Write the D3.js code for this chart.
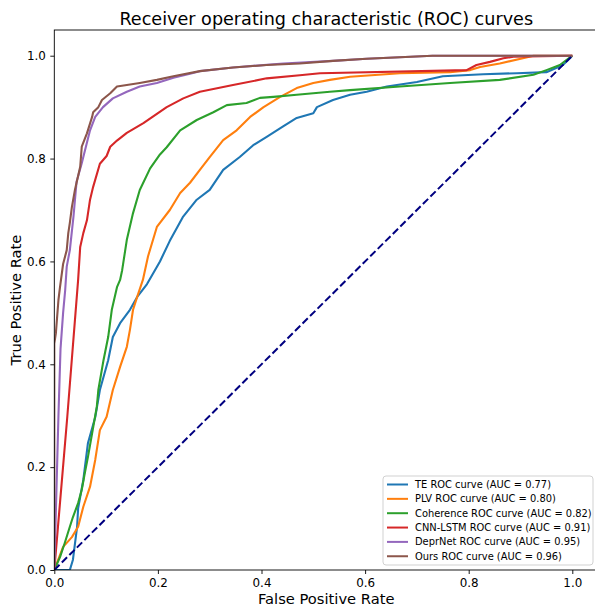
<!DOCTYPE html>
<html>
<head>
<meta charset="utf-8">
<script src="https://cdn.jsdelivr.net/npm/d3@7"></script>
<style>
  body { margin: 0; background: white; }
  svg { display: block; font-family: "DejaVu Sans", sans-serif; }
</style>
</head>
<body>
<svg id="chart"></svg>
<script>
// ROC curve points (false positive rate / true positive rate)
var teFpr  = [0, 0.03, 0.036, 0.044, 0.046, 0.056, 0.065, 0.079, 0.088, 0.104, 0.113, 0.127, 0.146, 0.16, 0.179, 0.204, 0.223, 0.248, 0.275, 0.30, 0.326, 0.358, 0.384, 0.41, 0.441, 0.468, 0.5, 0.507, 0.538, 0.571, 0.603, 0.642, 0.70, 0.75, 0.828, 0.893, 0.95, 0.982, 1];
var teTpr  = [0, 0, 0.02, 0.084, 0.12, 0.175, 0.247, 0.297, 0.35, 0.408, 0.453, 0.48, 0.506, 0.531, 0.556, 0.6, 0.64, 0.686, 0.72, 0.739, 0.778, 0.803, 0.826, 0.842, 0.862, 0.879, 0.888, 0.90, 0.914, 0.924, 0.93, 0.94, 0.949, 0.96, 0.964, 0.966, 0.968, 0.982, 1];

var plvFpr = [0, 0.017, 0.034, 0.046, 0.056, 0.069, 0.079, 0.088, 0.101, 0.113, 0.127, 0.14, 0.146, 0.152, 0.16, 0.171, 0.181, 0.198, 0.223, 0.243, 0.262, 0.281, 0.30, 0.326, 0.352, 0.378, 0.404, 0.436, 0.468, 0.5, 0.532, 0.571, 0.667, 0.764, 0.803, 0.822, 0.86, 0.913, 0.925, 1];
var plvTpr = [0, 0.045, 0.064, 0.084, 0.123, 0.162, 0.214, 0.272, 0.298, 0.35, 0.395, 0.434, 0.467, 0.506, 0.531, 0.564, 0.61, 0.667, 0.70, 0.733, 0.753, 0.778, 0.803, 0.836, 0.855, 0.881, 0.90, 0.92, 0.937, 0.947, 0.953, 0.959, 0.966, 0.968, 0.972, 0.978, 0.985, 0.997, 1, 1];

var cohFpr = [0, 0.011, 0.02, 0.03, 0.036, 0.046, 0.053, 0.059, 0.065, 0.073, 0.082, 0.085, 0.095, 0.104, 0.111, 0.121, 0.127, 0.131, 0.14, 0.152, 0.165, 0.185, 0.204, 0.217, 0.243, 0.275, 0.307, 0.333, 0.371, 0.397, 0.423, 0.468, 0.532, 0.571, 0.667, 0.764, 0.86, 0.925, 0.95, 0.976, 1];
var cohTpr = [0, 0.025, 0.052, 0.084, 0.103, 0.13, 0.156, 0.189, 0.22, 0.266, 0.317, 0.35, 0.408, 0.453, 0.506, 0.55, 0.564, 0.583, 0.642, 0.694, 0.739, 0.781, 0.808, 0.822, 0.855, 0.875, 0.89, 0.904, 0.908, 0.918, 0.92, 0.924, 0.93, 0.933, 0.94, 0.947, 0.953, 0.963, 0.972, 0.982, 1];

var cnnFpr = [0, 0.025, 0.046, 0.05, 0.056, 0.063, 0.069, 0.075, 0.088, 0.101, 0.108, 0.121, 0.14, 0.172, 0.217, 0.249, 0.281, 0.345, 0.41, 0.474, 0.513, 0.796, 0.815, 0.841, 0.867, 0.886, 1];
var cnnTpr = [0, 0.297, 0.564, 0.628, 0.655, 0.68, 0.72, 0.745, 0.79, 0.805, 0.823, 0.835, 0.85, 0.869, 0.90, 0.917, 0.93, 0.943, 0.956, 0.962, 0.966, 0.972, 0.982, 0.988, 0.995, 0.998, 1];

var deprFpr = [0, 0.004, 0.008, 0.012, 0.017, 0.021, 0.024, 0.03, 0.037, 0.043, 0.053, 0.056, 0.069, 0.079, 0.094, 0.113, 0.14, 0.165, 0.198, 0.23, 0.262, 0.281, 0.345, 0.442, 0.538, 0.603, 0.667, 0.73, 1];
var deprTpr = [0, 0.15, 0.3, 0.43, 0.5, 0.544, 0.59, 0.622, 0.687, 0.755, 0.791, 0.803, 0.855, 0.881, 0.90, 0.917, 0.93, 0.94, 0.947, 0.957, 0.965, 0.97, 0.977, 0.985, 0.99, 0.994, 0.997, 1, 1];

var oursFpr = [0, 0, 0.003, 0.008, 0.011, 0.017, 0.024, 0.027, 0.03, 0.034, 0.04, 0.05, 0.053, 0.063, 0.073, 0.075, 0.085, 0.092, 0.108, 0.121, 0.14, 0.165, 0.198, 0.23, 0.281, 0.345, 0.41, 0.474, 0.538, 0.603, 0.667, 0.73, 1];
var oursTpr = [0, 0.44, 0.46, 0.525, 0.55, 0.595, 0.622, 0.655, 0.675, 0.706, 0.74, 0.784, 0.823, 0.849, 0.881, 0.89, 0.90, 0.914, 0.927, 0.94, 0.943, 0.947, 0.953, 0.96, 0.97, 0.977, 0.982, 0.985, 0.99, 0.994, 0.997, 1, 1];

var names  = ["TE", "PLV", "Coherence", "CNN-LSTM", "DeprNet", "Ours"];
var aucs   = [0.77, 0.80, 0.82, 0.91, 0.95, 0.96];
var colors = ["#1f77b4", "#ff7f0e", "#2ca02c", "#d62728", "#9467bd", "#8c564b"];
var tickValues = [0.0, 0.2, 0.4, 0.6, 0.8, 1.0];

var fprs = [teFpr, plvFpr, cohFpr, cnnFpr, deprFpr, oursFpr];
var tprs = [teTpr, plvTpr, cohTpr, cnnTpr, deprTpr, oursTpr];

var series = names.map(function(n, i){
  return {name: n, auc: aucs[i], color: colors[i],
          points: fprs[i].map(function(f, j){ return [f, tprs[i][j]]; })};
});

var W = 595, H = 606;
var margin = {top: 30, left: 54.3},
    width = 543.9,
    height = 540;

var svg = d3.select("#chart").attr("width", W).attr("height", H);
svg.append("rect").attr("width", W).attr("height", H).attr("fill", "white");

var x = d3.scaleLinear().domain([0, 1.05]).range([0, width]),
    y = d3.scaleLinear().domain([0, 1.05]).range([height, 0]);

var g = svg.append("g")
  .attr("transform", "translate(" + margin.left + "," + margin.top + ")");

// clip the curves to the plotting area
svg.append("clipPath").attr("id", "plotclip")
  .append("rect").attr("width", width).attr("height", height);

var line = d3.line().x(d => x(d[0])).y(d => y(d[1]));

var curves = g.append("g").attr("clip-path", "url(#plotclip)");

curves.selectAll("path.roc")
  .data(series)
  .enter().append("path")
    .attr("class", "roc")
    .attr("d", d => line(d.points))
    .attr("fill", "none")
    .attr("stroke", d => d.color)
    .attr("stroke-width", 2.1)
    .attr("stroke-linejoin", "round");

// chance diagonal
curves.append("path")
  .attr("d", line([[0, 0], [1, 1]]))
  .attr("fill", "none")
  .attr("stroke", "navy")
  .attr("stroke-width", 2)
  .attr("stroke-dasharray", "7.4,3.2");

// axes
var xAxis = g.append("g")
  .attr("transform", "translate(0," + height + ")")
  .call(d3.axisBottom(x).tickValues(tickValues).tickFormat(d3.format(".1f"))
        .tickSize(4).tickPadding(4.5).tickSizeOuter(0));
var yAxis = g.append("g")
  .call(d3.axisLeft(y).tickValues(tickValues).tickFormat(d3.format(".1f"))
        .tickSize(4).tickPadding(4.5).tickSizeOuter(0));

[xAxis, yAxis].forEach(function(a){
  a.select(".domain").remove();
  a.selectAll("text").attr("font-family", "DejaVu Sans").attr("font-size", 11.9).attr("fill", "#000");
  a.selectAll("line").attr("stroke", "#000").attr("stroke-width", 0.9);
});

// spines
g.append("rect")
  .attr("width", width).attr("height", height)
  .attr("fill", "none").attr("stroke", "#000").attr("stroke-width", 0.9);

// labels
svg.append("text")
  .attr("x", margin.left + width / 2).attr("y", 24.5)
  .attr("text-anchor", "middle")
  .attr("font-size", 17.6)
  .text("Receiver operating characteristic (ROC) curves");

svg.append("text")
  .attr("x", margin.left + width / 2).attr("y", 604)
  .attr("text-anchor", "middle")
  .attr("font-size", 14.7)
  .text("False Positive Rate");

svg.append("text")
  .attr("transform", "translate(21," + (margin.top + height / 2) + ") rotate(-90)")
  .attr("text-anchor", "middle")
  .attr("font-size", 14.7)
  .text("True Positive Rate");

// legend
var legend = svg.append("g").attr("transform", "translate(383,476)");
legend.append("rect")
  .attr("width", 210).attr("height", 89).attr("rx", 3)
  .attr("fill", "white").attr("fill-opacity", 0.8)
  .attr("stroke", "#cccccc").attr("stroke-width", 0.9);

var items = legend.selectAll("g.item")
  .data(series)
  .enter().append("g")
    .attr("class", "item")
    .attr("transform", (d, i) => "translate(0," + (8.5 + i * 14.35) + ")");

items.append("line")
  .attr("x1", 4).attr("x2", 25).attr("y1", 0).attr("y2", 0)
  .attr("stroke", d => d.color).attr("stroke-width", 2);

items.append("text")
  .attr("x", 32).attr("y", 0).attr("dy", "0.35em")
  .attr("font-size", 9.9)
  .text(d => d.name + " ROC curve (AUC = " + d.auc.toFixed(2) + ")");
</script>
</body>
</html>
